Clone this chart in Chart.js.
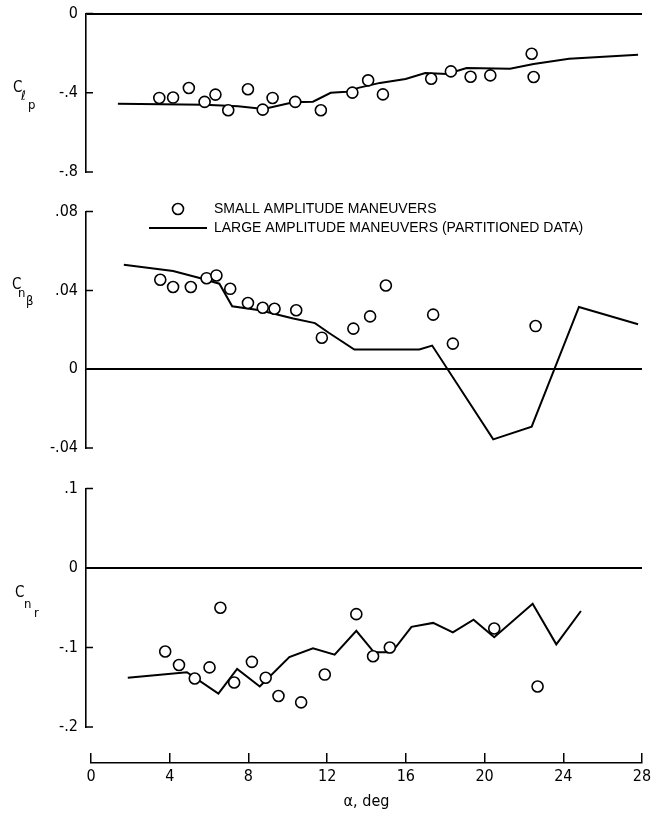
<!DOCTYPE html>
<html>
<head>
<meta charset="utf-8">
<script src="https://cdn.jsdelivr.net/npm/chart.js@4.4.1/dist/chart.umd.min.js"></script>
<style>
body { margin: 0; background: #fff; }
#wrap { position: relative; width: 659px; height: 815px; overflow: hidden; }
canvas { position: absolute; left: 0; }
</style>
</head>
<body>
<div id="wrap">
  <canvas id="clp" width="659" height="195" style="top:-4px"></canvas>
  <canvas id="cnb" width="659" height="273" style="top:194px"></canvas>
  <canvas id="cnr" width="659" height="275" style="top:471px"></canvas>
  <canvas id="xax" width="659" height="70" style="top:745px"></canvas>
  <canvas id="leg" width="520" height="50" style="top:197px;left:144px"></canvas>
</div>
<script>
var seriesNames = ['SMALL AMPLITUDE MANEUVERS', 'LARGE AMPLITUDE MANEUVERS (PARTITIONED DATA)'];

// C_l_p : roll damping
var clpSmallAlpha = [3.5, 4.2, 5.0, 5.8, 6.35, 7.0, 8.0, 8.75, 9.25, 10.4, 11.7, 13.3, 14.1, 14.85, 17.3, 18.3, 19.3, 20.3, 22.4, 22.5];
var clpSmall = [-0.426, -0.424, -0.376, -0.446, -0.409, -0.488, -0.382, -0.485, -0.426, -0.446, -0.488, -0.399, -0.337, -0.408, -0.329, -0.292, -0.319, -0.312, -0.203, -0.32];
var clpLargeAlpha = [1.4, 5.8, 7.5, 8.8, 10.3, 11.3, 12.2, 13.0, 13.6, 14.7, 16.0, 17.0, 18.1, 19.1, 21.3, 22.5, 24.3, 27.8];
var clpLarge = [-0.455, -0.46, -0.468, -0.482, -0.448, -0.445, -0.40, -0.395, -0.375, -0.35, -0.33, -0.30, -0.305, -0.275, -0.278, -0.255, -0.228, -0.208];

// C_n_beta
var cnbSmallAlpha = [3.55, 4.2, 5.1, 5.9, 6.4, 7.1, 8.0, 8.75, 9.35, 10.45, 11.75, 13.35, 14.2, 15.0, 17.4, 18.4, 22.6];
var cnbSmall = [0.0454, 0.0417, 0.0417, 0.0462, 0.0476, 0.0408, 0.0336, 0.0312, 0.0307, 0.0299, 0.016, 0.0206, 0.0268, 0.0425, 0.0277, 0.013, 0.0219];
var cnbLargeAlpha = [1.7, 4.2, 5.5, 6.55, 7.2, 8.6, 10.3, 11.4, 12.1, 13.4, 16.7, 17.35, 20.45, 22.4, 24.8, 27.8];
var cnbLarge = [0.053, 0.0498, 0.0464, 0.0434, 0.0319, 0.0299, 0.0257, 0.0234, 0.0185, 0.010, 0.010, 0.012, -0.0356, -0.0292, 0.0316, 0.0228];

// C_n_r
var cnrSmallAlpha = [3.8, 4.5, 5.3, 6.05, 6.6, 7.3, 8.2, 8.9, 9.55, 10.7, 11.9, 13.5, 14.35, 15.2, 20.5, 22.7];
var cnrSmall = [-0.105, -0.122, -0.139, -0.125, -0.05, -0.144, -0.118, -0.138, -0.161, -0.169, -0.134, -0.058, -0.111, -0.1, -0.076, -0.149];
var cnrLargeAlpha = [1.9, 4.9, 6.5, 7.45, 8.6, 10.1, 11.3, 12.4, 13.5, 14.4, 15.3, 16.3, 17.4, 18.4, 19.45, 20.5, 22.45, 23.65, 24.9];
var cnrLarge = [-0.138, -0.131, -0.158, -0.127, -0.149, -0.112, -0.101, -0.109, -0.079, -0.106, -0.106, -0.074, -0.069, -0.081, -0.065, -0.087, -0.045, -0.096, -0.054];

var clpTicks = [0, -0.4, -0.8];
var cnbTicks = [0.08, 0.04, 0, -0.04];
var cnrTicks = [0.1, 0, -0.1, -0.2];
var alphaTicks = [0, 4, 8, 12, 16, 20, 24, 28];

var narrow = "'Liberation Sans Narrow', 'DejaVu Sans Condensed', sans-serif";
var tickFont = { family: narrow, size: 16 };
var legendFont = { family: "'Liberation Sans', Arial, sans-serif", size: 14 };

// .4 style labels, no leading zero
function fmt(v) {
  if (v === 0) return '0';
  return String(+v.toFixed(3)).replace('0.', '.');
}

function zip(xs, ys) {
  return xs.map(function(x, i) { return { x: x, y: ys[i] }; });
}

// draws the C with stacked subscripts left of each panel
var panelLabel = {
  id: 'panelLabel',
  afterDraw: function(chart, args, opts) {
    var ctx = chart.ctx;
    ctx.save();
    ctx.fillStyle = '#000';
    ctx.textAlign = 'left';
    ctx.textBaseline = 'alphabetic';
    opts.parts.forEach(function(p) {
      ctx.font = p[3] + 'px ' + narrow;
      ctx.fillText(p[0], p[1], p[2]);
    });
    ctx.restore();
  }
};

// tick marks pointing into the plot, at the y scale's own ticks
var innerTicks = {
  id: 'innerTicks',
  afterDraw: function(chart) {
    var s = chart.scales.y, left = chart.chartArea.left, ctx = chart.ctx;
    ctx.save();
    ctx.strokeStyle = '#000';
    ctx.lineWidth = 1.5;
    ctx.beginPath();
    s.ticks.forEach(function(t) {
      var y = s.getPixelForValue(t.value);
      ctx.moveTo(left, y);
      ctx.lineTo(left + 7, y);
    });
    ctx.stroke();
    ctx.restore();
  }
};

function makePanel(id, smallA, small, largeA, large, ticks, parts, padTop, padBottom) {
  return new Chart(document.getElementById(id), {
    type: 'scatter',
    data: {
      datasets: [
        { label: seriesNames[0], data: zip(smallA, small), pointRadius: 5.5, pointBorderWidth: 1.6,
          pointBackgroundColor: '#fff', pointBorderColor: '#000', showLine: false },
        { label: seriesNames[1], data: zip(largeA, large), showLine: true, borderColor: '#000',
          borderWidth: 2, pointRadius: 0, fill: false, tension: 0 }
      ]
    },
    options: {
      responsive: false,
      animation: false,
      events: [],
      layout: { padding: { left: 0, right: 17, top: padTop, bottom: padBottom } },
      plugins: {
        legend: { display: false },
        tooltip: { enabled: false },
        panelLabel: { parts: parts }
      },
      scales: {
        x: { type: 'linear', min: -0.22, max: 28, display: false },
        y: {
          min: ticks[ticks.length - 1],
          max: ticks[0],
          afterFit: function(s) { s.width = 86; },
          afterBuildTicks: function(s) { s.ticks = ticks.map(function(v) { return { value: v }; }); },
          ticks: { callback: fmt, padding: 8, color: '#000', font: tickFont },
          grid: {
            color: function(c) { return c.tick && c.tick.value === 0 ? '#000' : 'rgba(0,0,0,0)'; },
            lineWidth: 2,
            drawTicks: false
          },
          border: { display: true, color: '#000', width: 1.6 }
        }
      }
    },
    plugins: [panelLabel, innerTicks]
  });
}

makePanel('clp', clpSmallAlpha, clpSmall, clpLargeAlpha, clpLarge, clpTicks,
  [['C', 13, 96, 15], ['\u2113', 21, 104, 13], ['p', 28, 113, 13]], 17, 19);
makePanel('cnb', cnbSmallAlpha, cnbSmall, cnbLargeAlpha, cnbLarge, cnbTicks,
  [['C', 12, 95, 15], ['n', 18, 103, 13], ['\u03b2', 26, 111, 13]], 17, 19);
makePanel('cnr', cnrSmallAlpha, cnrSmall, cnrLargeAlpha, cnrLarge, cnrTicks,
  [['C', 15, 126, 15], ['n', 24, 137, 13], ['r', 34, 146, 13]], 17, 19);

// shared alpha axis, ticks drawn upward as grid lines in a thin chart area
new Chart(document.getElementById('xax'), {
  type: 'scatter',
  data: { datasets: [] },
  options: {
    responsive: false,
    animation: false,
    events: [],
    layout: { padding: { left: 91, right: 17, top: 8, bottom: 0 } },
    plugins: { legend: { display: false }, tooltip: { enabled: false } },
    scales: {
      x: {
        type: 'linear', min: 0, max: 28, position: 'bottom',
        afterFit: function(s) { s.height = 52; },
        afterBuildTicks: function(s) { s.ticks = alphaTicks.map(function(v) { return { value: v }; }); },
        ticks: { color: '#000', font: tickFont, padding: 4, maxRotation: 0, autoSkip: false },
        grid: { color: '#000', lineWidth: 1.5, drawTicks: false, drawOnChartArea: true },
        border: { display: true, color: '#000', width: 1.6 },
        title: { display: true, text: '\u03b1, deg', color: '#000', font: tickFont, padding: { top: 0, bottom: 4 } }
      },
      y: { display: false, min: 0, max: 1 }
    }
  }
});

// legend markers
var circleMark = document.createElement('canvas');
circleMark.width = 14; circleMark.height = 14;
var cm = circleMark.getContext('2d');
cm.lineWidth = 1.6; cm.strokeStyle = '#000';
cm.beginPath(); cm.arc(7, 7, 5.5, 0, Math.PI * 2); cm.stroke();

var lineMark = document.createElement('canvas');
lineMark.width = 58; lineMark.height = 4;
var lm = lineMark.getContext('2d');
lm.fillStyle = '#000'; lm.fillRect(0, 1, 58, 2);

new Chart(document.getElementById('leg'), {
  type: 'scatter',
  data: { datasets: [ { label: seriesNames[0], data: [] }, { label: seriesNames[1], data: [] } ] },
  options: {
    responsive: false,
    animation: false,
    events: [],
    layout: { padding: 0 },
    scales: { x: { display: false }, y: { display: false } },
    plugins: {
      tooltip: { enabled: false },
      legend: {
        position: 'left',
        align: 'start',
        maxWidth: 520,
        labels: {
          usePointStyle: true,
          pointStyleWidth: 58,
          padding: 5,
          color: '#000',
          font: legendFont,
          generateLabels: function(chart) {
            return chart.data.datasets.map(function(ds, i) {
              return { text: ds.label, pointStyle: i === 0 ? circleMark : lineMark,
                fillStyle: '#fff', strokeStyle: '#000', lineWidth: 0, hidden: false, datasetIndex: i };
            });
          }
        }
      }
    }
  }
});
</script>
</body>
</html>
